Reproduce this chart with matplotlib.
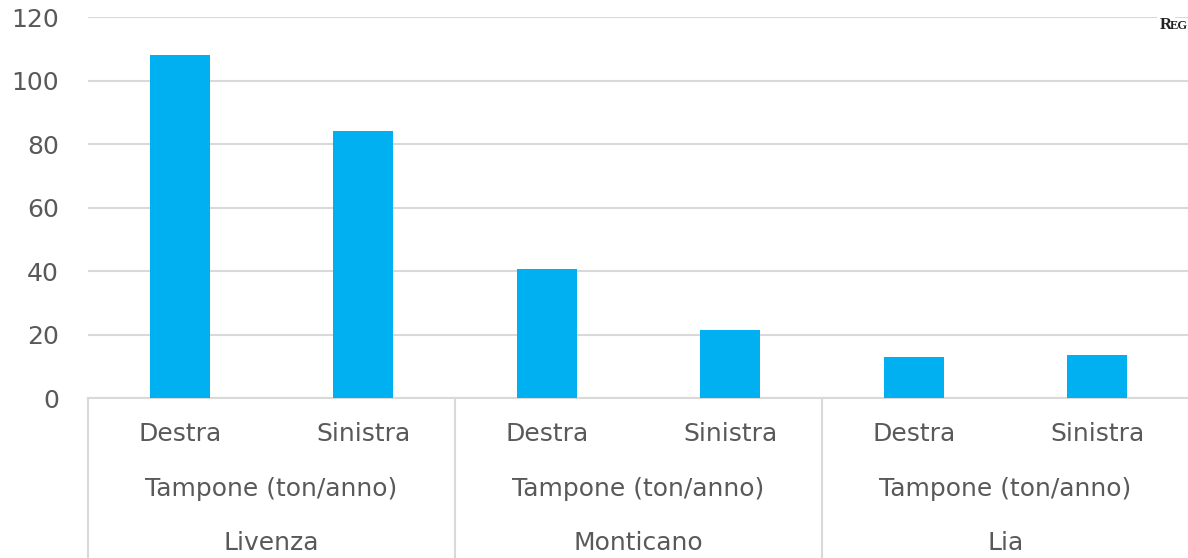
import matplotlib.pyplot as plt
import numpy as np

# data
rivers = ['Livenza', 'Monticano', 'Lia']
sides = ['Destra', 'Sinistra']
measure = 'Tampone (ton/anno)'
values = [108, 84, 40.6, 21.4, 12.9, 13.5]

bar_color = '#00B0F0'
text_color = '#595959'
line_color = '#D9D9D9'

fig = plt.figure(figsize=(11.88, 5.58), dpi=100)
ax = fig.add_axes([88 / 1188, 160 / 558, 1101 / 1188, 381 / 558])

x = np.arange(len(values))
ax.bar(x, values, width=0.327, color=bar_color, zorder=3)

ax.set_xlim(-0.5, len(values) - 0.5)
ax.set_ylim(0, 120)
ax.set_yticks(np.arange(0, 121, 20))
ax.yaxis.grid(True, color=line_color, linewidth=1.5, zorder=0)
ax.tick_params(axis='y', length=0, pad=21, labelsize=18, labelcolor=text_color)
ax.set_xticks([])
for s in ['top', 'right', 'left']:
    ax.spines[s].set_visible(False)
ax.spines['bottom'].set_color(line_color)
ax.spines['bottom'].set_linewidth(1.5)

# multi-level category axis
trans = ax.get_xaxis_transform()
blend = plt.matplotlib.transforms.blended_transform_factory(ax.transData, fig.transFigure)
for i, river in enumerate(rivers):
    left = 2 * i - 0.5
    ax.plot([left, left], [0, -0.5], transform=trans, color=line_color,
            linewidth=1.5, clip_on=False)
    for j, side in enumerate(sides):
        fig.text(2 * i + j, 1 - 434 / 558, side, transform=blend, ha='center',
                 va='center', fontsize=18, color=text_color)
    fig.text(2 * i + 0.5, 1 - 489 / 558, measure, transform=blend, ha='center',
             va='center', fontsize=18, color=text_color)
    fig.text(2 * i + 0.5, 1 - 543 / 558, river, transform=blend, ha='center',
             va='center', fontsize=18, color=text_color)

# header text at the top right (cut off in the source)
fig.text(1160 / 1188, 1 - 25 / 558, 'R', fontsize=12, family='Liberation Serif',
         fontweight='bold', color='#222222', va='center', ha='left',
         bbox=dict(facecolor='white', edgecolor='none', pad=2))
fig.text(1170 / 1188, 1 - 26 / 558, 'EG', fontsize=9, family='Liberation Serif',
         fontweight='bold', color='#222222', va='center', ha='left')

fig.savefig('out.png', dpi=100)
